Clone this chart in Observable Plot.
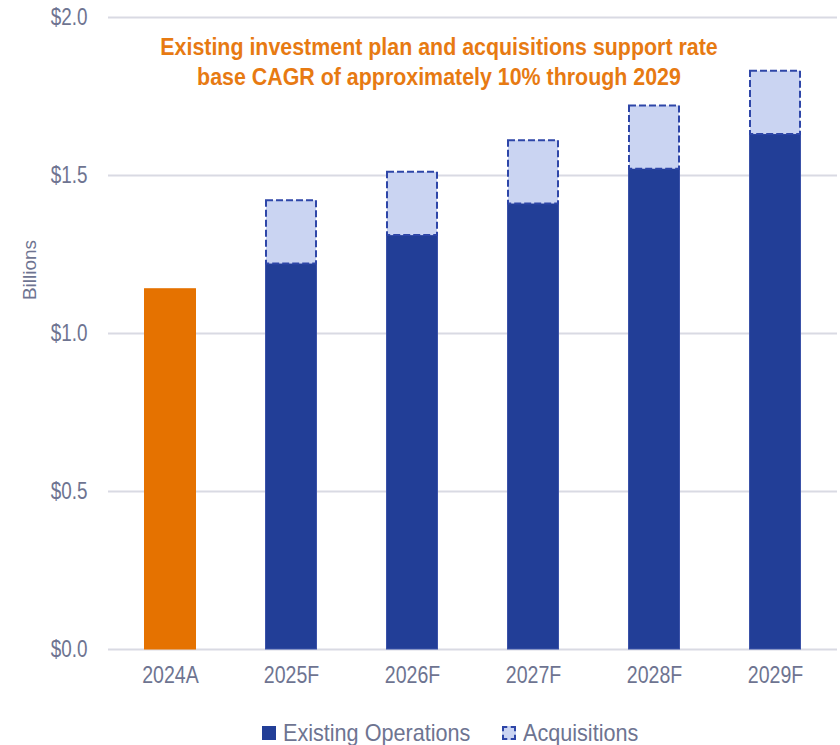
<!DOCTYPE html>
<html>
<head>
<meta charset="utf-8">
<script src="https://cdn.jsdelivr.net/npm/d3@7"></script>
<script src="https://cdn.jsdelivr.net/npm/@observablehq/plot@0.6"></script>
<style>
  html, body { margin: 0; padding: 0; background: #fff; }
  #wrap { position: relative; width: 840px; height: 745px; overflow: hidden;
          font-family: "Liberation Sans", Arial, sans-serif; }
  #title { position: absolute; left: 139px; width: 600px; top: 32px; text-align: center;
           color: #E77A12; font-weight: bold; font-size: 23px; line-height: 30px;
           transform: scaleX(0.93); transform-origin: 300px 0; }
  #ylab { position: absolute; left: 30px; top: 270px; transform: translate(-50%, -50%) rotate(-90deg);
          color: #6E7491; font-size: 19px; white-space: nowrap; }
  #legend { position: relative; height: 45px; color: #6E7491; font-size: 24px; }
  .item { position: absolute; top: 19px; display: flex; align-items: center; line-height: 28px; }
  .item span { display: inline-block; transform: scaleX(0.9); transform-origin: 0 50%; }
  .sw { width: 14px; height: 14px; margin-right: 7px; box-sizing: border-box; }
</style>
</head>
<body>
<div id="wrap">
  <div id="chart"></div>
  <div id="legend"></div>
  <div id="title">Existing investment plan and acquisitions support rate<br>base CAGR of approximately 10% through 2029</div>
  <div id="ylab">Billions</div>
</div>
<script>
const categories = ["2024A", "2025F", "2026F", "2027F", "2028F", "2029F"];
const existing = [1.14, 1.22, 1.31, 1.41, 1.52, 1.63];
const acquisitions = [0, 0.20, 0.20, 0.20, 0.20, 0.20];
const yTicks = [0, 0.5, 1.0, 1.5, 2.0];
const seriesNames = ["Existing Operations", "Acquisitions"];

const rows = categories.map((c, i) => ({
  cat: c,
  base: existing[i],
  top: existing[i] + acquisitions[i],
  acq: acquisitions[i],
  actual: c.endsWith("A")
}));

const font = '"Liberation Sans", Arial, sans-serif';
const chart = Plot.plot({
  width: 840,
  height: 700,
  marginLeft: 108,
  marginRight: 3,
  marginTop: 17,
  marginBottom: 51,
  style: { fontFamily: font, fontSize: "23px", color: "#6E7491", background: "#fff" },
  x: { domain: categories, paddingInner: 0.57, paddingOuter: 0.29, label: null },
  y: { domain: [0, 2], label: null },
  marks: [
    Plot.ruleY(yTicks, { stroke: "#D9DAE3", strokeWidth: 2 }),
    Plot.barY(rows, { x: "cat", y1: 0, y2: "base",
      fill: d => d.actual ? "#E57200" : "#223E97",
      stroke: d => d.actual ? "#E57200" : "#3B52A8", strokeWidth: 1, insetLeft: 0.5, insetRight: 0.5 }),
    Plot.barY(rows.filter(d => d.acq > 0), { x: "cat", y1: "base", y2: "top",
      fill: "#CAD4F2", stroke: "#2E46A8", strokeWidth: 2, strokeDasharray: "7,3", insetLeft: 1, insetRight: 1 }),
    Plot.axisY({ ticks: yTicks, tickSize: 0, tickPadding: 21, tickFormat: d => "$" + d.toFixed(1), label: null, fontSize: 23 }),
    Plot.axisX({ tickSize: 0, tickPadding: 17, label: null, fontSize: 23 })
  ]
});
document.getElementById("chart").appendChild(chart);

// condense axis tick label glyphs horizontally (narrow-font look)
function condense(sel, s) {
  chart.querySelectorAll(sel).forEach(t => {
    const L = t.getComputedTextLength();
    t.setAttribute("textLength", (L * s).toFixed(1));
    t.setAttribute("lengthAdjust", "spacingAndGlyphs");
  });
}
condense('g[aria-label="x-axis tick label"] text', 0.85);
condense('g[aria-label="y-axis tick label"] text', 0.82);

const legend = document.getElementById("legend");
const pos = [262, 502];
const swStyles = [
  "background:#223E97;",
  "background:#CAD4F2;border:2px dashed #2E46A8;"
];
seriesNames.forEach((n, i) => {
  const it = document.createElement("div");
  it.className = "item";
  it.style.left = pos[i] + "px";
  it.innerHTML = `<div class="sw" style="${swStyles[i]}"></div><span>${n}</span>`;
  legend.appendChild(it);
});
</script>
</body>
</html>
